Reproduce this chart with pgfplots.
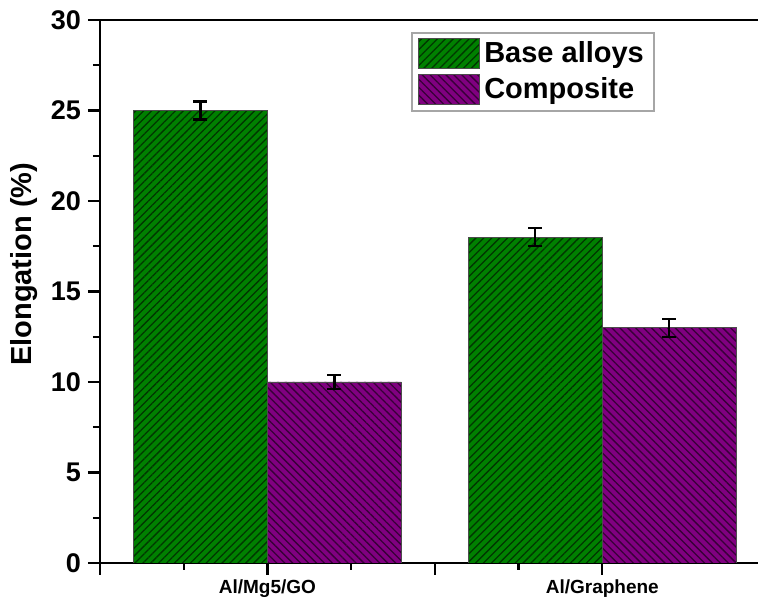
\documentclass[border=0pt]{standalone}
\usepackage{pgfplots}
\pgfplotsset{compat=1.18}
\usepackage{fontspec}
\setmainfont{Liberation Sans}
\usetikzlibrary{patterns.meta}

\definecolor{basegreen}{RGB}{0,128,0}
\definecolor{basegreenline}{RGB}{0,55,0}
\definecolor{compviolet}{RGB}{128,0,128}
\definecolor{compvioletline}{RGB}{55,0,55}

\pgfplotsset{
  swatch/.style={legend image code/.code={%
    \draw[##1, line width=0.5pt] (0pt,-7.5pt) rectangle (30.5pt,7.5pt);}},
}

\begin{document}
\begin{tikzpicture}
\begin{axis}[
  scale only axis,
  width=329pt, height=271.5pt,
  xmin=0, xmax=3.93,
  ymin=0, ymax=30,
  axis x line*=box,
  axis y line*=left,
  axis line style={line width=1.4pt},
  every tick/.style={black, line width=1.2pt},
  tick align=outside,
  major tick length=6pt,
  minor tick length=3.5pt,
  xtick={0,1,2,3},
  xticklabels={,Al/Mg5/GO,,Al/Graphene},
  minor x tick num=1,
  xtick pos=bottom,
  ytick={0,5,...,30},
  minor y tick num=1,
  ytick pos=left,
  /pgf/number format/assume math mode=true,
  yticklabel style={font=\fontsize{13.5}{15}\selectfont\bfseries},
  xticklabel style={font=\fontsize{9.5}{11}\selectfont\bfseries, yshift=1pt},
  ylabel={Elongation (\%)},
  ylabel style={font=\fontsize{14.5}{16}\selectfont\bfseries},
  every axis y label/.append style={at={(ticklabel cs:0.55)}},
  legend style={
    at={(rel axis cs:0.843,0.978)}, anchor=north east,
    draw=gray!70, line width=0.8pt,
    font=\fontsize{14.5}{16}\selectfont\bfseries,
    row sep=2pt, inner xsep=3pt, inner ysep=2.5pt,
  },
  legend cell align=left,
  ybar, bar shift=0pt, bar width=0.8,
  error bars/error bar style={line width=1.1pt, black},
  error bars/error mark options={rotate=90, mark size=3.5pt, line width=1.1pt, black},
]
% Base alloys
\addplot[draw=black!70, fill=basegreen, swatch,
  postaction={pattern={Lines[angle=45, distance=2.8pt, line width=0.65pt]}, pattern color=basegreenline},
  error bars/.cd, y dir=both, y explicit]
  coordinates {(0.6,25) +- (0,0.5) (2.6,18) +- (0,0.5)};
% Composite
\addplot[draw=black!70, fill=compviolet, swatch,
  postaction={pattern={Lines[angle=-45, distance=2.8pt, line width=0.65pt]}, pattern color=compvioletline},
  error bars/.cd, y dir=both, y explicit]
  coordinates {(1.4,10) +- (0,0.4) (3.4,13) +- (0,0.5)};
\legend{Base alloys, Composite}
\coordinate (bl) at (rel axis cs:0,0);
\coordinate (tr) at (rel axis cs:1,1);
\end{axis}
\pgfresetboundingbox
\path ([xshift=-50pt,yshift=-20pt]bl) rectangle ([yshift=10pt]tr);
\end{tikzpicture}
\end{document}
